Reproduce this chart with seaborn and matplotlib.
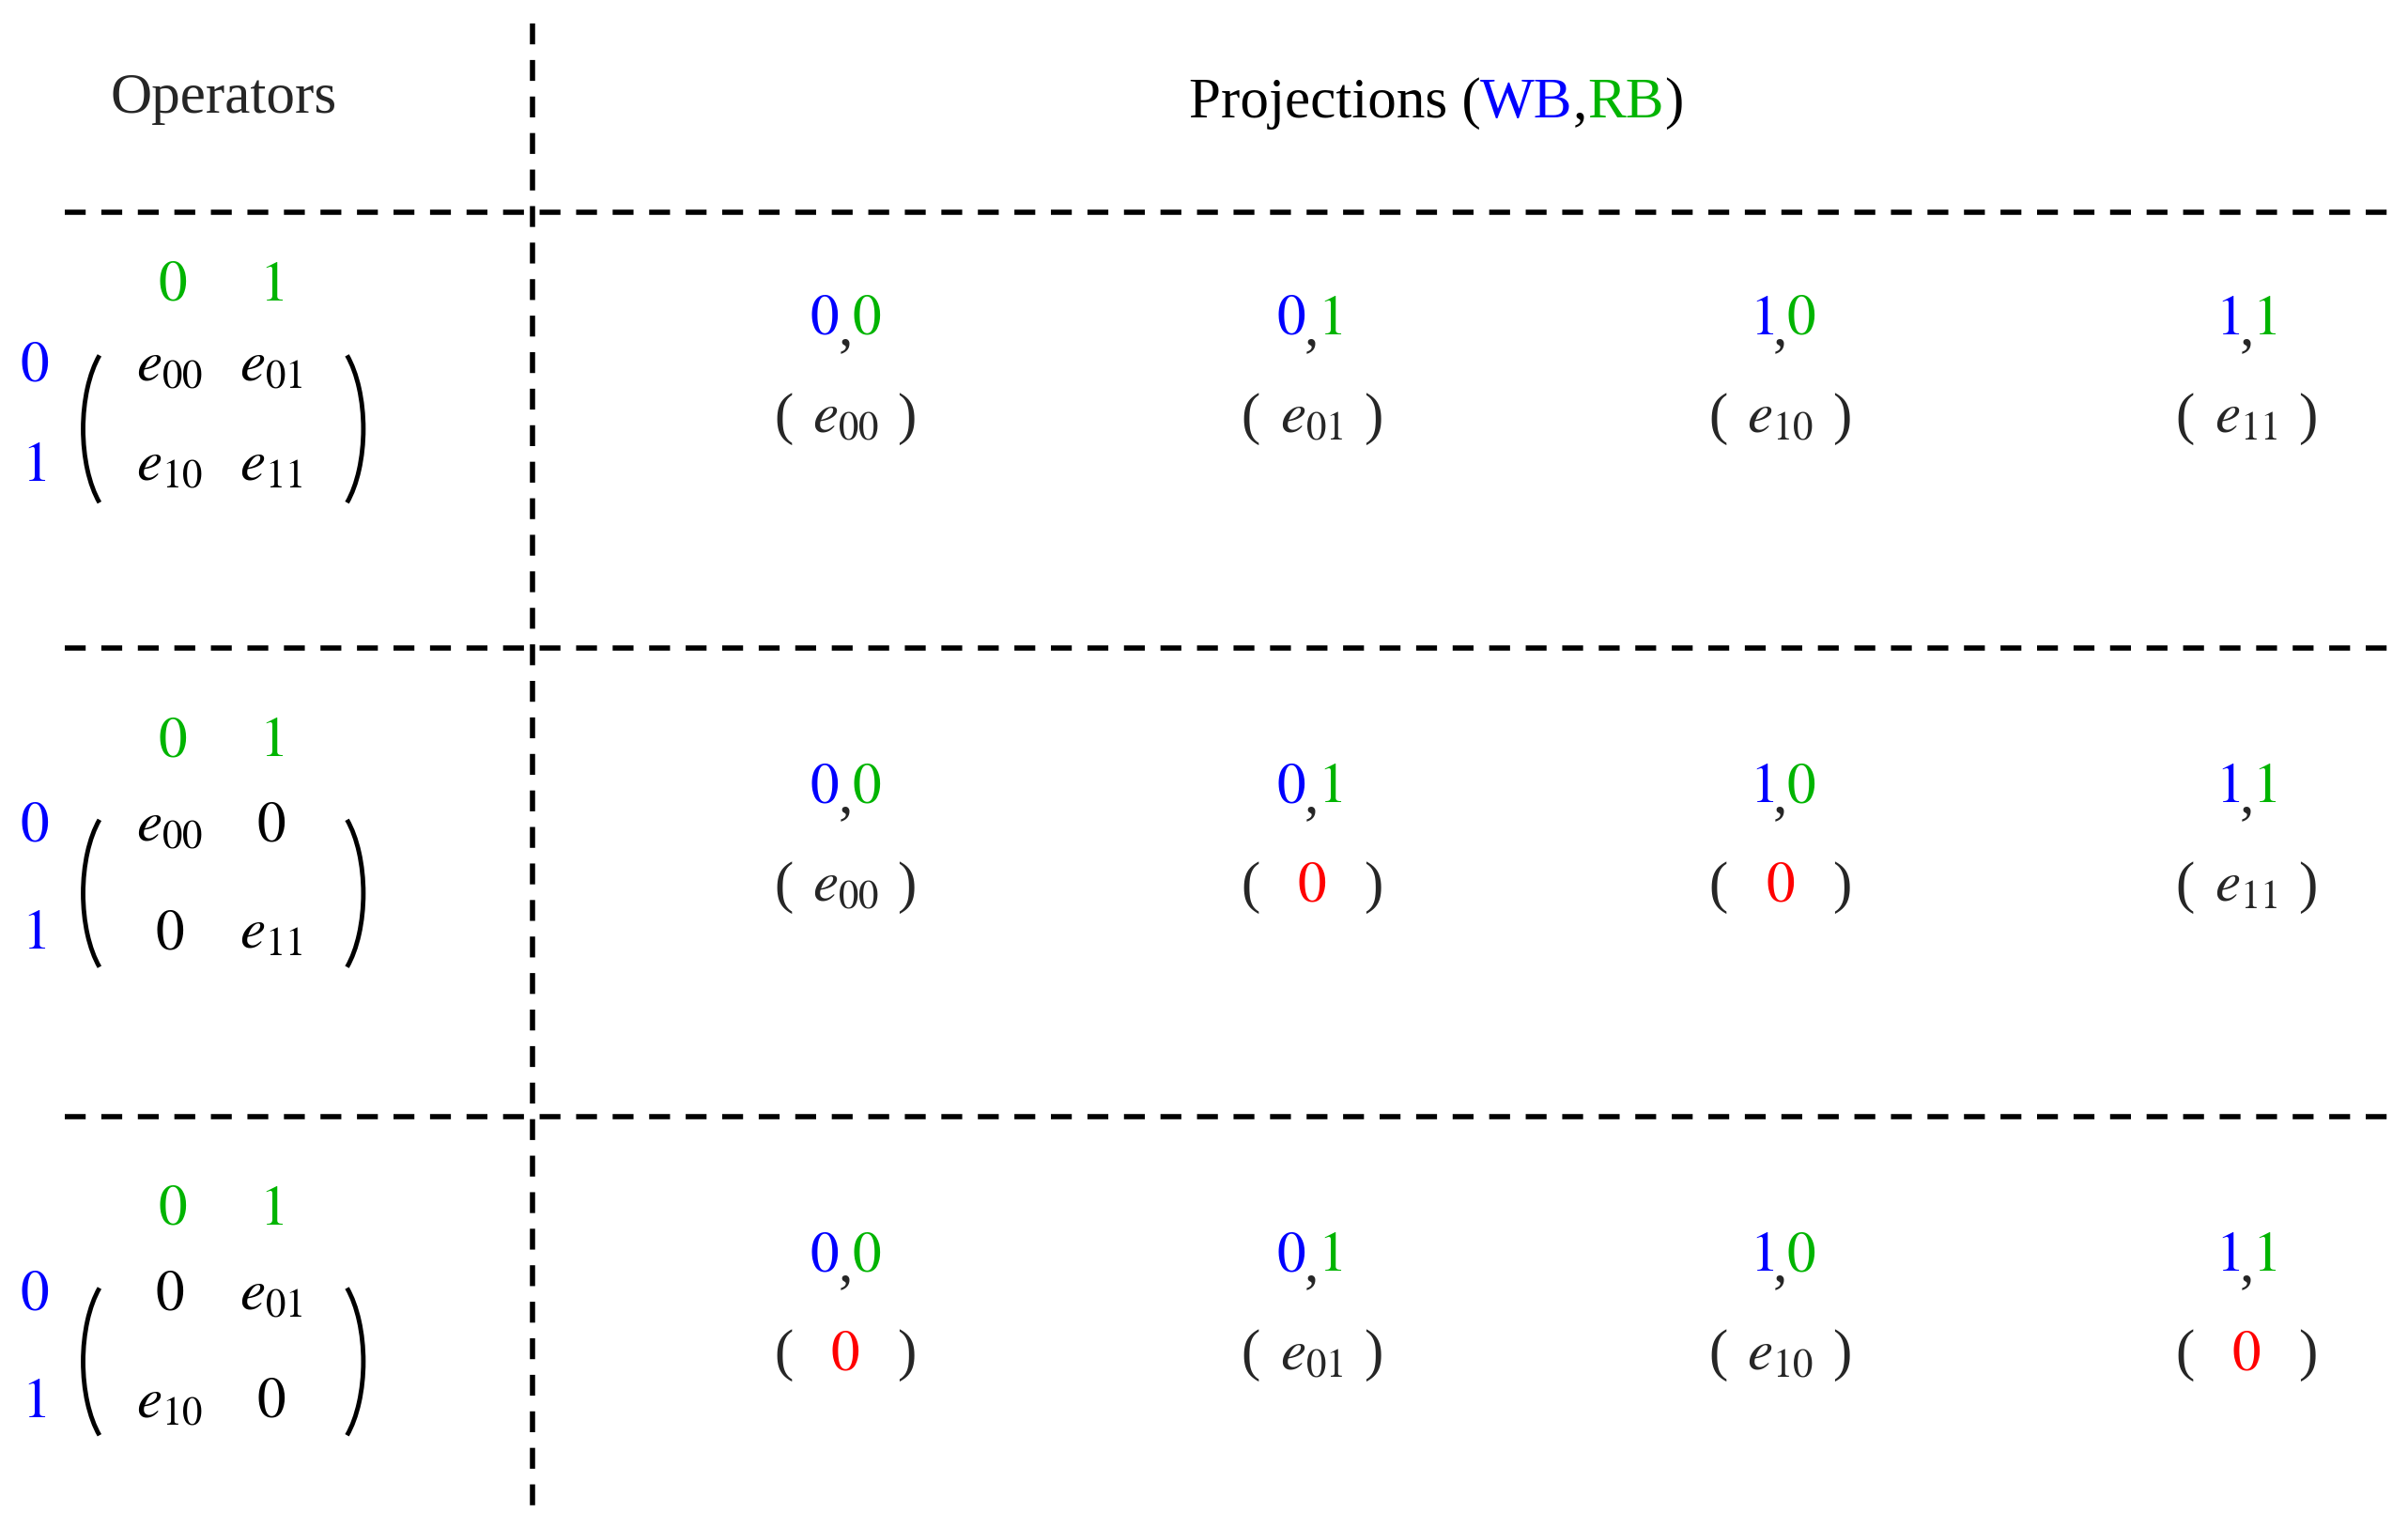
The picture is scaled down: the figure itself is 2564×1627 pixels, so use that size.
import matplotlib
matplotlib.use("Agg")
import matplotlib.pyplot as plt
from matplotlib.patches import Arc
import seaborn as sns

sns.set_style("white")
plt.rcParams['font.family'] = ['Liberation Serif', 'DejaVu Serif']
plt.rcParams['mathtext.fontset'] = 'stix'

BLUE, GREEN, RED, BLACK = '#0000ff', '#00b400', '#ff0000', 'black'

# operator matrices (entry text, None means zero)
operators = [
    [['00', '01'], ['10', '11']],
    [['00', None], [None, '11']],
    [[None, '01'], ['10', None]],
]
wb_labels = ['0', '1']
rb_labels = ['0', '1']
projections = [(0, 0), (0, 1), (1, 0), (1, 1)]

# layout (coordinates in a 1564 x 992 canvas)
row_top = [186, 482, 786]
proj_x = [549, 852, 1156, 1459]
FS = 44

fig = plt.figure(figsize=(25.64, 16.27), dpi=100)
ax = fig.add_axes([0, 0, 1, 1])
ax.set_xlim(0, 1564)
ax.set_ylim(992, 0)
ax.axis('off')

dash = dict(color='black', lw=4, ls=(0, (4, 3)))
ax.plot([346, 346], [15, 980], **dash)
for y in [138, 421, 725]:
    ax.plot([42, 1552], [y, y], **dash)

ax.text(145, 64, 'Operators', fontsize=FS, ha='center', va='center')

# title pieces chained one after another
pieces = [('Projections (', BLACK), ('WB', BLUE), (',', BLACK), ('RB', GREEN), (')', BLACK)]
prev = ax.text(772, 76, pieces[0][0], fontsize=FS, ha='left', va='baseline', color=pieces[0][1])
for s, c in pieces[1:]:
    prev = ax.annotate(s, xy=(1, 0), xycoords=prev, fontsize=FS, ha='left', va='bottom', color=c)


def entry(v):
    return ('$e_{%s}$' % v, BLACK) if v else ('$0$', BLACK)


for r, mat in enumerate(operators):
    yt = row_top[r]
    y0 = yt + (52 if r == 0 else 55)
    y1 = y0 + (65 if r == 0 else 70)
    for j, lab in enumerate(rb_labels):
        ax.text([112, 176][j], yt, '$%s$' % lab, fontsize=FS, color=GREEN, ha='center', va='center')
    for i, lab in enumerate(wb_labels):
        ax.text(22, [y0, y1][i], '$%s$' % lab, fontsize=FS, color=BLUE, ha='center', va='center')
        for j in range(2):
            s, c = entry(mat[i][j])
            ax.text([110, 176][j], [y0, y1][i], s, fontsize=FS, color=c, ha='center', va='center')
    cy = (y0 + y1) / 2 + 8
    ax.add_patch(Arc((82, cy), 56, 122, theta1=110, theta2=250, lw=3.5, color='black'))
    ax.add_patch(Arc((208, cy), 56, 122, theta1=-70, theta2=70, lw=3.5, color='black'))

    ly = yt + 22 if r == 0 else yt + 30
    ey = ly + 64
    for k, (i, j) in enumerate(projections):
        x = proj_x[k]
        ax.text(x - 4, ly, '$%s$' % wb_labels[i], fontsize=FS, color=BLUE, ha='right', va='center')
        ax.text(x, ly + 6, ',', fontsize=FS, ha='center', va='center')
        ax.text(x + 4, ly, '$%s$' % rb_labels[j], fontsize=FS, color=GREEN, ha='left', va='center')
        v = mat[i][j]
        ax.text(x - 40, ey, '(', fontsize=FS, ha='center', va='center')
        ax.text(x + 40, ey, ')', fontsize=FS, ha='center', va='center')
        if v:
            ax.text(x, ey, '$e_{%s}$' % v, fontsize=FS, ha='center', va='center')
        else:
            ax.text(x, ey, '$0$', fontsize=FS, color=RED, ha='center', va='center')

fig.savefig('out.png', dpi=100)
